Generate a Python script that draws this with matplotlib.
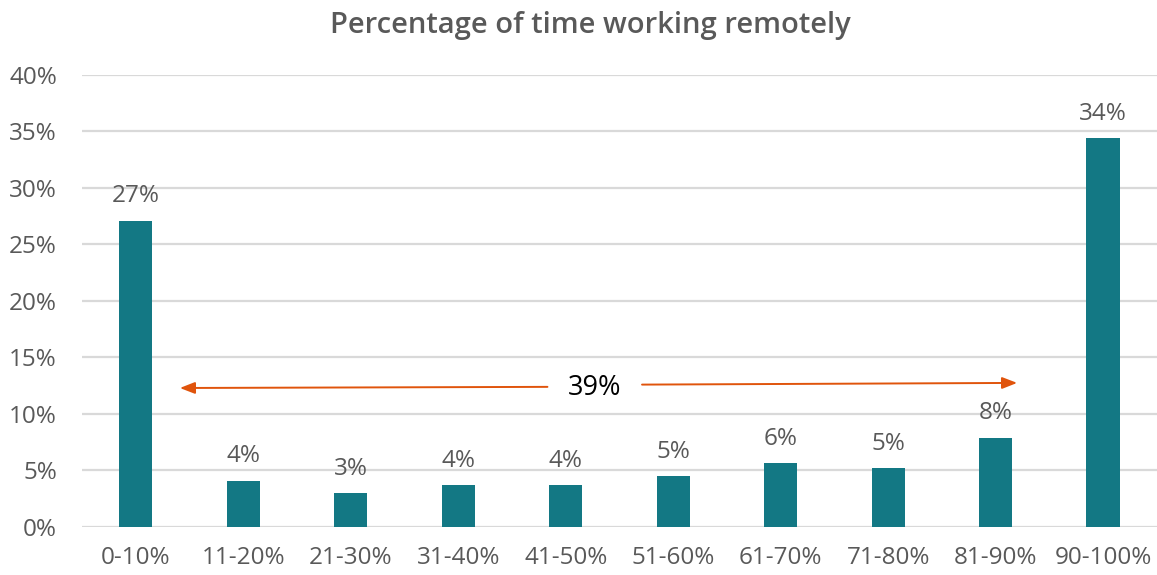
import matplotlib.pyplot as plt
import numpy as np

plt.rcParams['font.family'] = ['Open Sans', 'DejaVu Sans']

categories = ['0-10%', '11-20%', '21-30%', '31-40%', '41-50%',
              '51-60%', '61-70%', '71-80%', '81-90%', '90-100%']
values = [27.1, 4.1, 3.0, 3.7, 3.7, 4.5, 5.65, 5.2, 7.9, 34.4]
labels = ['27%', '4%', '3%', '4%', '4%', '5%', '6%', '5%', '8%', '34%']
yticks = [0, 5, 10, 15, 20, 25, 30, 35, 40]
span_label = '39%'

bar_color = '#137884'
text_gray = '#595959'
arrow_color = '#E0540C'

fig = plt.figure(figsize=(11.57, 5.75), dpi=100)
ax = fig.add_axes([0.0709, 0.0835, 0.929, 0.7861])

x = np.arange(len(categories))
bars = ax.bar(x, values, width=0.31, color=bar_color, zorder=3)

for xi, v, lab in zip(x, values, labels):
    ax.annotate(lab, (xi, v), xytext=(0, 9), textcoords='offset points',
                ha='center', va='bottom', fontsize=17.5, color=text_gray)

ax.set_xlim(-0.5, 9.5)
ax.set_ylim(0, 40)
ax.set_yticks(yticks)
ax.set_yticklabels([f'{t}%' for t in yticks])
ax.set_xticks(x)
ax.set_xticklabels(categories)
ax.grid(axis='y', color='#D9D9D9', linewidth=1.6, zorder=0)
for s in ax.spines.values():
    s.set_visible(False)
ax.tick_params(axis='both', length=0, labelsize=17.5, labelcolor=text_gray)
ax.tick_params(axis='x', pad=14)
ax.tick_params(axis='y', pad=18)

# arrows spanning the middle categories
ax.annotate('', xy=(0.41, 12.3), xytext=(3.83, 12.4),
            arrowprops=dict(arrowstyle='-|>,head_length=0.9,head_width=0.35',
                            color=arrow_color, lw=1.4, shrinkA=0, shrinkB=0))
ax.annotate('', xy=(8.20, 12.75), xytext=(4.71, 12.6),
            arrowprops=dict(arrowstyle='-|>,head_length=0.9,head_width=0.35',
                            color=arrow_color, lw=1.4, shrinkA=0, shrinkB=0))
ax.text(4.27, 12.3, span_label, ha='center', va='center', fontsize=19.5,
        color='black')

fig.suptitle('Percentage of time working remotely', x=0.51, y=0.98,
             fontsize=21, fontweight='semibold', color=text_gray)

fig.savefig('out.png', dpi=100)
